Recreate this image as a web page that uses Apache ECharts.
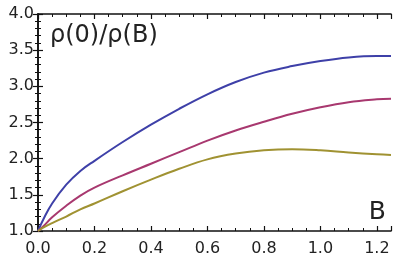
<!DOCTYPE html>
<html>
<head>
<meta charset="utf-8">
<script src="https://cdn.jsdelivr.net/npm/echarts@6/dist/echarts.min.js"></script>
<style>html,body{margin:0;padding:0;background:#fff}#c{width:415px;height:269px}</style>
</head>
<body>
<div id="c"></div>
<script>
const bValues = [0, 0.02, 0.05, 0.1, 0.15, 0.2, 0.3, 0.4, 0.5, 0.6, 0.7, 0.8, 0.9, 1.0, 1.1, 1.2, 1.25];
const blueSeries = [1.0, 1.17, 1.38, 1.64, 1.83, 1.97, 2.23, 2.47, 2.69, 2.89, 3.06, 3.19, 3.28, 3.35, 3.40, 3.42, 3.42];
const magentaSeries = [1.0, 1.07, 1.19, 1.35, 1.49, 1.60, 1.77, 1.93, 2.09, 2.25, 2.39, 2.51, 2.62, 2.71, 2.78, 2.82, 2.83];
const oliveSeries = [1.0, 1.05, 1.11, 1.20, 1.30, 1.38, 1.55, 1.71, 1.86, 1.99, 2.07, 2.115, 2.13, 2.115, 2.085, 2.06, 2.05];
const yAxisTitle = 'ρ(0)/ρ(B)';
const xAxisTitle = 'B';

const pairs = arr => bValues.map((b, i) => [b, arr[i]]);
const font = 'DejaVu Sans';
const axisLine = { show: true, lineStyle: { color: '#111', width: 1.6 } };
const tick = { show: true, inside: true, length: 5, lineStyle: { color: '#111', width: 1.2 } };
const minor = (n) => ({ show: true, splitNumber: n, length: 3, lineStyle: { color: '#111', width: 1 } });
const fmt = v => v.toFixed(1);

const chart = echarts.init(document.getElementById('c'), null, { renderer: 'canvas' });
chart.setOption({
  animation: false,
  backgroundColor: '#fff',
  grid: { left: 38, right: 24, top: 14, bottom: 38 },
  xAxis: [
    { type: 'value', min: 0, max: 1.25, interval: 0.2, position: 'bottom',
      axisLine, axisTick: tick, minorTick: minor(4), splitLine: { show: false },
      axisLabel: { formatter: fmt, fontFamily: font, fontSize: 16, color: '#222', margin: 10, showMaxLabel: false } },
    { type: 'value', min: 0, max: 1.25, interval: 0.2, position: 'top',
      axisLine, axisTick: tick, minorTick: minor(4), splitLine: { show: false },
      axisLabel: { show: false } }
  ],
  yAxis: [
    { type: 'value', min: 1, max: 4, interval: 0.5, position: 'left',
      axisLine, axisTick: tick, minorTick: minor(5), splitLine: { show: false },
      axisLabel: { formatter: fmt, fontFamily: font, fontSize: 16, color: '#222', margin: 4 } },
    { type: 'value', min: 1, max: 4, interval: 0.5, position: 'right',
      axisLine, axisTick: tick, minorTick: minor(5), splitLine: { show: false },
      axisLabel: { show: false } }
  ],
  series: [
    { type: 'line', data: pairs(blueSeries), smooth: 0.4, showSymbol: false, lineStyle: { color: '#3e40a8', width: 2 } },
    { type: 'line', data: pairs(magentaSeries), smooth: 0.4, showSymbol: false, lineStyle: { color: '#a8386f', width: 2 } },
    { type: 'line', data: pairs(oliveSeries), smooth: 0.4, showSymbol: false, lineStyle: { color: '#a09232', width: 2 } }
  ],
  graphic: [
    { type: 'text', left: 50, top: 24, style: { text: yAxisTitle, font: '24px "DejaVu Sans"', fill: '#222' } },
    { type: 'text', right: 29, top: 200, style: { text: xAxisTitle, font: '25px "DejaVu Sans"', fill: '#222' } }
  ]
});
</script>
</body>
</html>
